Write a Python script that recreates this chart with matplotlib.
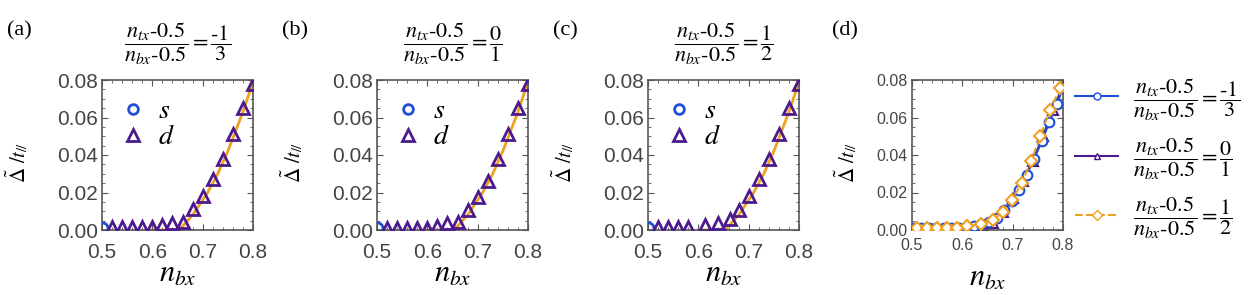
import numpy as np
import matplotlib
matplotlib.use('Agg')
import matplotlib.pyplot as plt
from matplotlib.ticker import MultipleLocator
from matplotlib.lines import Line2D

plt.rcParams['mathtext.fontset'] = 'stix'
plt.rcParams['font.family'] = ['Liberation Sans', 'DejaVu Sans']

# ---- data ----
panel_tags = ['(a)', '(b)', '(c)']
ratio_nums = ['-1', '0', '1']
ratio_dens = ['3', '1', '2']

# s-wave: only the point at n_bx = 0.5 is visible
s_x = [0.50]
s_y = [0.0012]

# d-wave triangles, panels a, b, c
d_x_a = [0.52, 0.54, 0.56, 0.58, 0.60, 0.62, 0.64, 0.66, 0.68, 0.70, 0.72, 0.74, 0.76, 0.78, 0.80]
d_y_a = [0.0015, 0.0015, 0.0015, 0.0015, 0.0015, 0.0025, 0.0035, 0.0045, 0.011, 0.018, 0.027, 0.038, 0.051, 0.065, 0.078]
d_x_b = [0.52, 0.54, 0.56, 0.58, 0.60, 0.62, 0.64, 0.66, 0.68, 0.70, 0.72, 0.74, 0.76, 0.78, 0.80]
d_y_b = [0.0012, 0.0012, 0.0012, 0.0012, 0.0012, 0.0022, 0.0035, 0.0045, 0.0105, 0.0175, 0.026, 0.038, 0.051, 0.065, 0.078]
d_x_c = [0.52, 0.54, 0.56, 0.58, 0.613, 0.639, 0.663, 0.68, 0.70, 0.72, 0.74, 0.76, 0.78, 0.80]
d_y_c = [0.0015, 0.0015, 0.0015, 0.0015, 0.0025, 0.0035, 0.006, 0.0105, 0.018, 0.027, 0.038, 0.051, 0.065, 0.078]

# orange fit curve (panels a-c)
fit_x = [0.60, 0.65, 0.66, 0.67, 0.68, 0.69, 0.70, 0.71, 0.72, 0.73, 0.74, 0.75, 0.76, 0.77, 0.78, 0.79, 0.80]
fit_y = [0.0, 0.0, 0.002, 0.005, 0.008, 0.012, 0.016, 0.020, 0.025, 0.030, 0.036, 0.042, 0.049, 0.056, 0.063, 0.071, 0.079]

# panel d: three ratios
cmp_x_neg = [0.503, 0.518, 0.533, 0.548, 0.563, 0.578, 0.593, 0.608, 0.623, 0.638, 0.653, 0.668, 0.683,
             0.698, 0.713, 0.728, 0.743, 0.758, 0.773, 0.788, 0.80]
cmp_y_neg = [0.001, 0.001, 0.001, 0.001, 0.001, 0.001, 0.001, 0.0015, 0.002, 0.003, 0.0045, 0.0065, 0.0105,
             0.0155, 0.0215, 0.0295, 0.038, 0.0475, 0.0575, 0.067, 0.076]
cmp_x_zero = d_x_b
cmp_y_zero = [0.0005, 0.0005, 0.0005, 0.0005, 0.0005, 0.001, 0.0025, 0.004, 0.0095, 0.017, 0.026, 0.037, 0.050, 0.064, 0.077]
cmp_x_half = [0.51, 0.53, 0.55, 0.57, 0.59, 0.61, 0.637, 0.661, 0.68, 0.698, 0.718, 0.737, 0.755, 0.774, 0.795]
cmp_y_half = [0.001, 0.001, 0.001, 0.001, 0.001, 0.002, 0.003, 0.0055, 0.0095, 0.016, 0.025, 0.037, 0.050, 0.064, 0.076]

blue = '#1e4fd6'
purple = '#4b1a8c'
orange = '#f0a020'
tick_col = '#454545'

fig = plt.figure(figsize=(12.55, 2.95), dpi=100)

lefts = [102, 377, 648]
W, H = 1255, 295
ax_w, ax_h = 151, 150
ax_bottom = 1 - 230 / H

ylab = r'$\tilde{\Delta}\ /t_{/\!/}$'


def style_axes(ax, fs, pad):
    ax.set_xlim(0.5, 0.8)
    ax.set_ylim(0, 0.08)
    ax.xaxis.set_minor_locator(MultipleLocator(0.02))
    ax.yaxis.set_minor_locator(MultipleLocator(0.005))
    ax.tick_params(which='both', direction='in', top=True, right=True, colors='#555555',
                   labelcolor=tick_col, labelsize=fs)
    ax.tick_params(which='major', length=4, width=0.8)
    ax.tick_params(which='minor', length=2, width=0.6)
    ax.tick_params(axis='x', pad=pad)
    ax.tick_params(axis='y', pad=3)
    ax.set_xticks([0.5, 0.6, 0.7, 0.8])
    ax.set_xticklabels(['0.5', '0.6', '0.7', '0.8'])
    ax.set_yticks([0, 0.02, 0.04, 0.06, 0.08])
    ax.set_yticklabels(['0.00', '0.02', '0.04', '0.06', '0.08'])
    for sp in ax.spines.values():
        sp.set_color('#555555')
        sp.set_linewidth(1.2)


def ratio_text(n, d):
    return r'$\dfrac{n_{tx}\text{-}0.5}{n_{bx}\text{-}0.5}=\dfrac{\text{%s}}{%s}$' % (n, d)


d_sets = [(d_x_a, d_y_a), (d_x_b, d_y_b), (d_x_c, d_y_c)]
for i in range(3):
    ax = fig.add_axes([lefts[i] / W, ax_bottom, ax_w / W, ax_h / H])
    style_axes(ax, 15, 9)
    ax.plot(fit_x, fit_y, color=orange, lw=2, zorder=2)
    ax.plot([0.6, 0.66], [0, 0], color=purple, lw=1.5, zorder=2)
    ax.plot(s_x, s_y, 'o', ms=8, mfc='none', mec=blue, mew=2, zorder=3)
    dx, dy = d_sets[i]
    ax.plot(dx, dy, '^', ms=9, mfc='none', mec=purple, mew=2, zorder=4)
    ax.legend(handles=[Line2D([], [], ls='none', marker='o', ms=7, mfc='none', mec=blue, mew=2),
                       Line2D([], [], ls='none', marker='^', ms=8, mfc='none', mec=purple, mew=2)],
              labels=[r'$s$', r'$d$'], loc='upper left', frameon=False, fontsize=20,
              handletextpad=0.3, borderaxespad=0.1, labelspacing=0.0, handlelength=1.2,
              bbox_to_anchor=(0.0, 0.97))
    ax.set_xlabel(r'$n_{bx}$', fontsize=22)
    ax.xaxis.set_label_coords(0.5, -0.19)
    ax.set_ylabel(ylab, fontsize=15)
    ax.yaxis.set_label_coords(-0.48, 0.45)
    cx = (lefts[i] + ax_w / 2) / W
    fig.text(cx, 1 - 44 / H, ratio_text(ratio_nums[i], ratio_dens[i]),
             ha='center', va='center', fontsize=16)
    fig.text((lefts[i] - 95) / W, 1 - 31 / H, panel_tags[i], ha='left', va='center',
             fontsize=16, family='Liberation Serif')

# panel d
axd = fig.add_axes([912 / W, ax_bottom, ax_w / W, ax_h / H])
style_axes(axd, 11.5, 6)
axd.plot(cmp_x_neg, cmp_y_neg, '-o', color=blue, lw=1.5, ms=7, mfc='white', mec=blue, mew=1.5, zorder=3)
axd.plot(cmp_x_zero, cmp_y_zero, '-^', color=purple, lw=1.5, ms=7, mfc='white', mec=purple, mew=1.5, zorder=2)
axd.plot(cmp_x_half, cmp_y_half, '--D', color=orange, lw=1.5, ms=6, mfc='white', mec=orange, mew=1.5, zorder=4)
axd.set_xlabel(r'$n_{bx}$', fontsize=22)
axd.xaxis.set_label_coords(0.5, -0.22)
axd.set_ylabel(ylab, fontsize=15)
axd.yaxis.set_label_coords(-0.35, 0.45)
fig.text(832 / W, 1 - 31 / H, '(d)', ha='left', va='center', fontsize=16, family='Liberation Serif')

leg_h = [Line2D([], [], color=blue, lw=1.5, marker='o', ms=5, mfc='white', mec=blue),
         Line2D([], [], color=purple, lw=1.5, marker='^', ms=5, mfc='white', mec=purple),
         Line2D([], [], color=orange, lw=1.5, ls='--', marker='D', ms=5, mfc='white', mec=orange)]
leg_l = [ratio_text(n, d) for n, d in zip(ratio_nums, ratio_dens)]
fig.legend(handles=leg_h, labels=leg_l, loc='upper left', bbox_to_anchor=(1075 / W, 1 - 76 / H),
           frameon=False, fontsize=16, handlelength=1.95, handletextpad=0.64, labelspacing=0.55,
           borderaxespad=0, borderpad=0)

fig.savefig('out.png', dpi=100)
